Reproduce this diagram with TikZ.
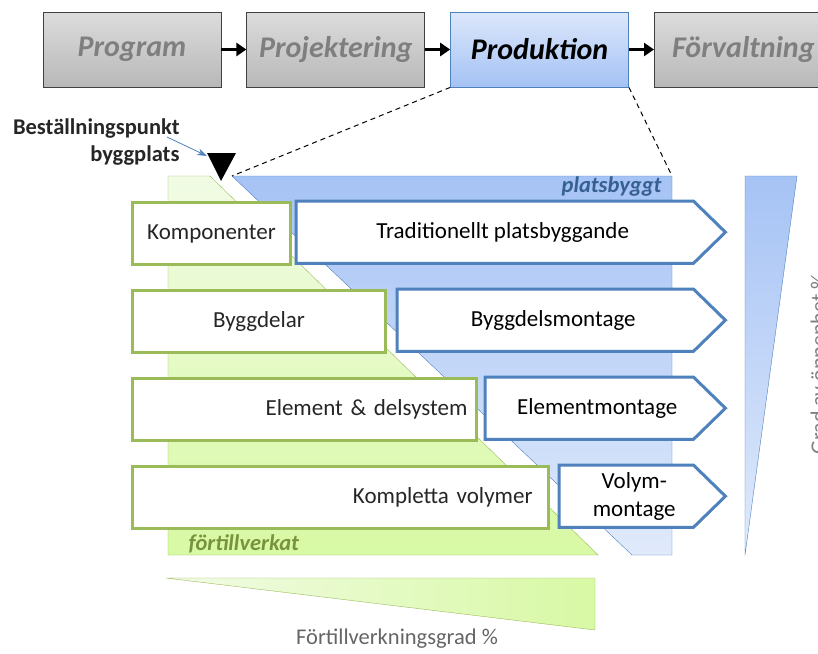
\documentclass[tikz,border=0pt]{standalone}
\usepackage{fontspec}
\setmainfont{Carlito}
\usetikzlibrary{arrows.meta, positioning}

\definecolor{phaseline}{HTML}{404040}
\definecolor{phasetop}{HTML}{DCDCDC}
\definecolor{phasebot}{HTML}{B8B8B8}
\definecolor{phasetext}{HTML}{7F7F7F}
\definecolor{prodtop}{HTML}{DCE7FB}
\definecolor{prodbot}{HTML}{A4C2F4}
\definecolor{blueline}{HTML}{4F81BD}
\definecolor{bluetop}{HTML}{A6C3F5}
\definecolor{bluebot}{HTML}{E0EAFB}
\definecolor{greenline}{HTML}{9BBB59}
\definecolor{greentop}{HTML}{F1FBE5}
\definecolor{greenbot}{HTML}{D8F9A4}
\definecolor{greentext}{HTML}{77933C}
\definecolor{platstext}{HTML}{376092}
\definecolor{labeltext}{HTML}{262626}
\definecolor{axistext}{HTML}{7F7F7F}

\pgfdeclarelayer{back}
\pgfdeclarelayer{mid}
\pgfsetlayers{back,mid,main}

\begin{document}
\begin{tikzpicture}[x=1pt, y=-1pt]
\useasboundingbox (0,0) rectangle (818,653);

\tikzset{phase/.style = {draw=phaseline, line width=0.8pt, top color=phasetop, bottom color=phasebot,
  minimum width=178pt, minimum height=75pt, text=phasetext, font=\fontsize{30}{34}\selectfont\bfseries\itshape}}
\tikzset{phasearrow/.style = {line width=3.5pt, -{Triangle[length=10pt,width=13pt]}}}
\tikzset{greenbox/.style = {draw=greenline, line width=3pt, fill=white, minimum height=62pt, inner xsep=0pt,
  anchor=north west, text=labeltext, font=\fontsize{23}{27}\selectfont}}
\tikzset{bluebox/.style = {minimum height=62pt, inner xsep=0pt, anchor=north west, text=black,
  align=center, font=\fontsize{23}{27}\selectfont}}
\tikzset{bluearrow/.style = {draw=blueline, line width=3pt, fill=white, line join=miter}}

% phases
\node[phase] (prog) at (132,49.5) {Program};
\node[phase, right=25pt of prog] (proj) {Projektering};
\node[phase, right=25pt of proj, draw=blueline, top color=prodtop, bottom color=prodbot, text=black] (prod) {Produktion};
\node[phase, right=25pt of prod] (forv) {Förvaltning};
\draw[phasearrow] (prog) -- (proj);
\draw[phasearrow] (proj) -- (prod);
\draw[phasearrow] (prod) -- (forv);

% back areas
\begin{pgfonlayer}{back}
\path[draw=greenline, top color=greentop, bottom color=greenbot] (168,176) -- (210,176) -- (598,555) -- (168,555) -- cycle;
\path[draw=blueline, top color=bluetop, bottom color=bluebot] (232,176) -- (672,176) -- (672,555) -- (632,555) -- cycle;
\end{pgfonlayer}
\coordinate (gl) at (232,176);
\coordinate (gr) at (672,176);
\draw[dashed, line width=1pt, dash pattern=on 5pt off 4pt] (prod.south west) -- (gl);
\draw[dashed, line width=1pt, dash pattern=on 5pt off 4pt] (prod.south east) -- (gr);
\node[anchor=east, text=platstext, font=\fontsize{22.5}{26}\selectfont\bfseries\itshape] (plats) at (665,186) {platsbyggt};
\node[anchor=west, text=greentext, font=\fontsize{22.5}{26}\selectfont\bfseries\itshape] (fort) at (185,544) {förtillverkat};

% order point
\coordinate (tri) at (221,181);
\fill (207,153) -- (236,153) -- (tri) -- cycle;
\node[anchor=east, align=right, text=labeltext, font=\fontsize{22.5}{27}\selectfont\bfseries] (order) at (183,142) {Beställningspunkt\\byggplats};
\coordinate (ordertip) at (207,156);
\draw[blueline, line width=0.8pt, -{Stealth[length=10pt,width=7pt]}] (167,137) -- (ordertip);

% prefabricated parts
\node[greenbox, minimum width=158pt] (komp) at (131,201) {Komponenter};
\node[greenbox, minimum width=253pt] (bdel) at (131,289) {Byggdelar};
\node[greenbox, minimum width=344pt, text width=326pt, align=right] (elem) at (131,377) {Element \& delsystem};
\node[greenbox, minimum width=416pt, text width=384pt, align=right] (komv) at (131,465) {Kompletta volymer};

% assembly on site
\node[bluebox, minimum width=413pt] (trad) at (296,201) {Traditionellt platsbyggande};
\node[bluebox, minimum width=312pt] (bdm) at (397,289) {Byggdelsmontage};
\node[bluebox, minimum width=224pt] (elm) at (485,377) {Elementmontage};
\node[bluebox, minimum width=150pt, font=\fontsize{23}{28}\selectfont] (vol) at (559,465) {Volym-\\montage};
\begin{pgfonlayer}{mid}
\foreach \n in {trad,bdm,elm,vol}
  \draw[bluearrow] (\n.north west) -- ([xshift=-16pt]\n.north east) -- ([xshift=16pt]\n.east)
    -- ([xshift=-16pt]\n.south east) -- (\n.south west) -- cycle;
\end{pgfonlayer}

% scales
\path[draw=blueline, top color=bluetop, bottom color=bluebot] (745,176) -- (797,176) -- (745,555) -- cycle;
\node[rotate=90, text=axistext, font=\fontsize{22}{26}\selectfont] (open) at (820,364) {Grad av öppenhet \%};
\path[draw=greenline, left color=greentop, right color=greenbot] (166,578) -- (595,578) -- (595,630) -- cycle;
\node[text=axistext!80!black, font=\fontsize{22.5}{26}\selectfont] (grad) at (397,639) {Förtillverkningsgrad \%};
\end{tikzpicture}
\end{document}
